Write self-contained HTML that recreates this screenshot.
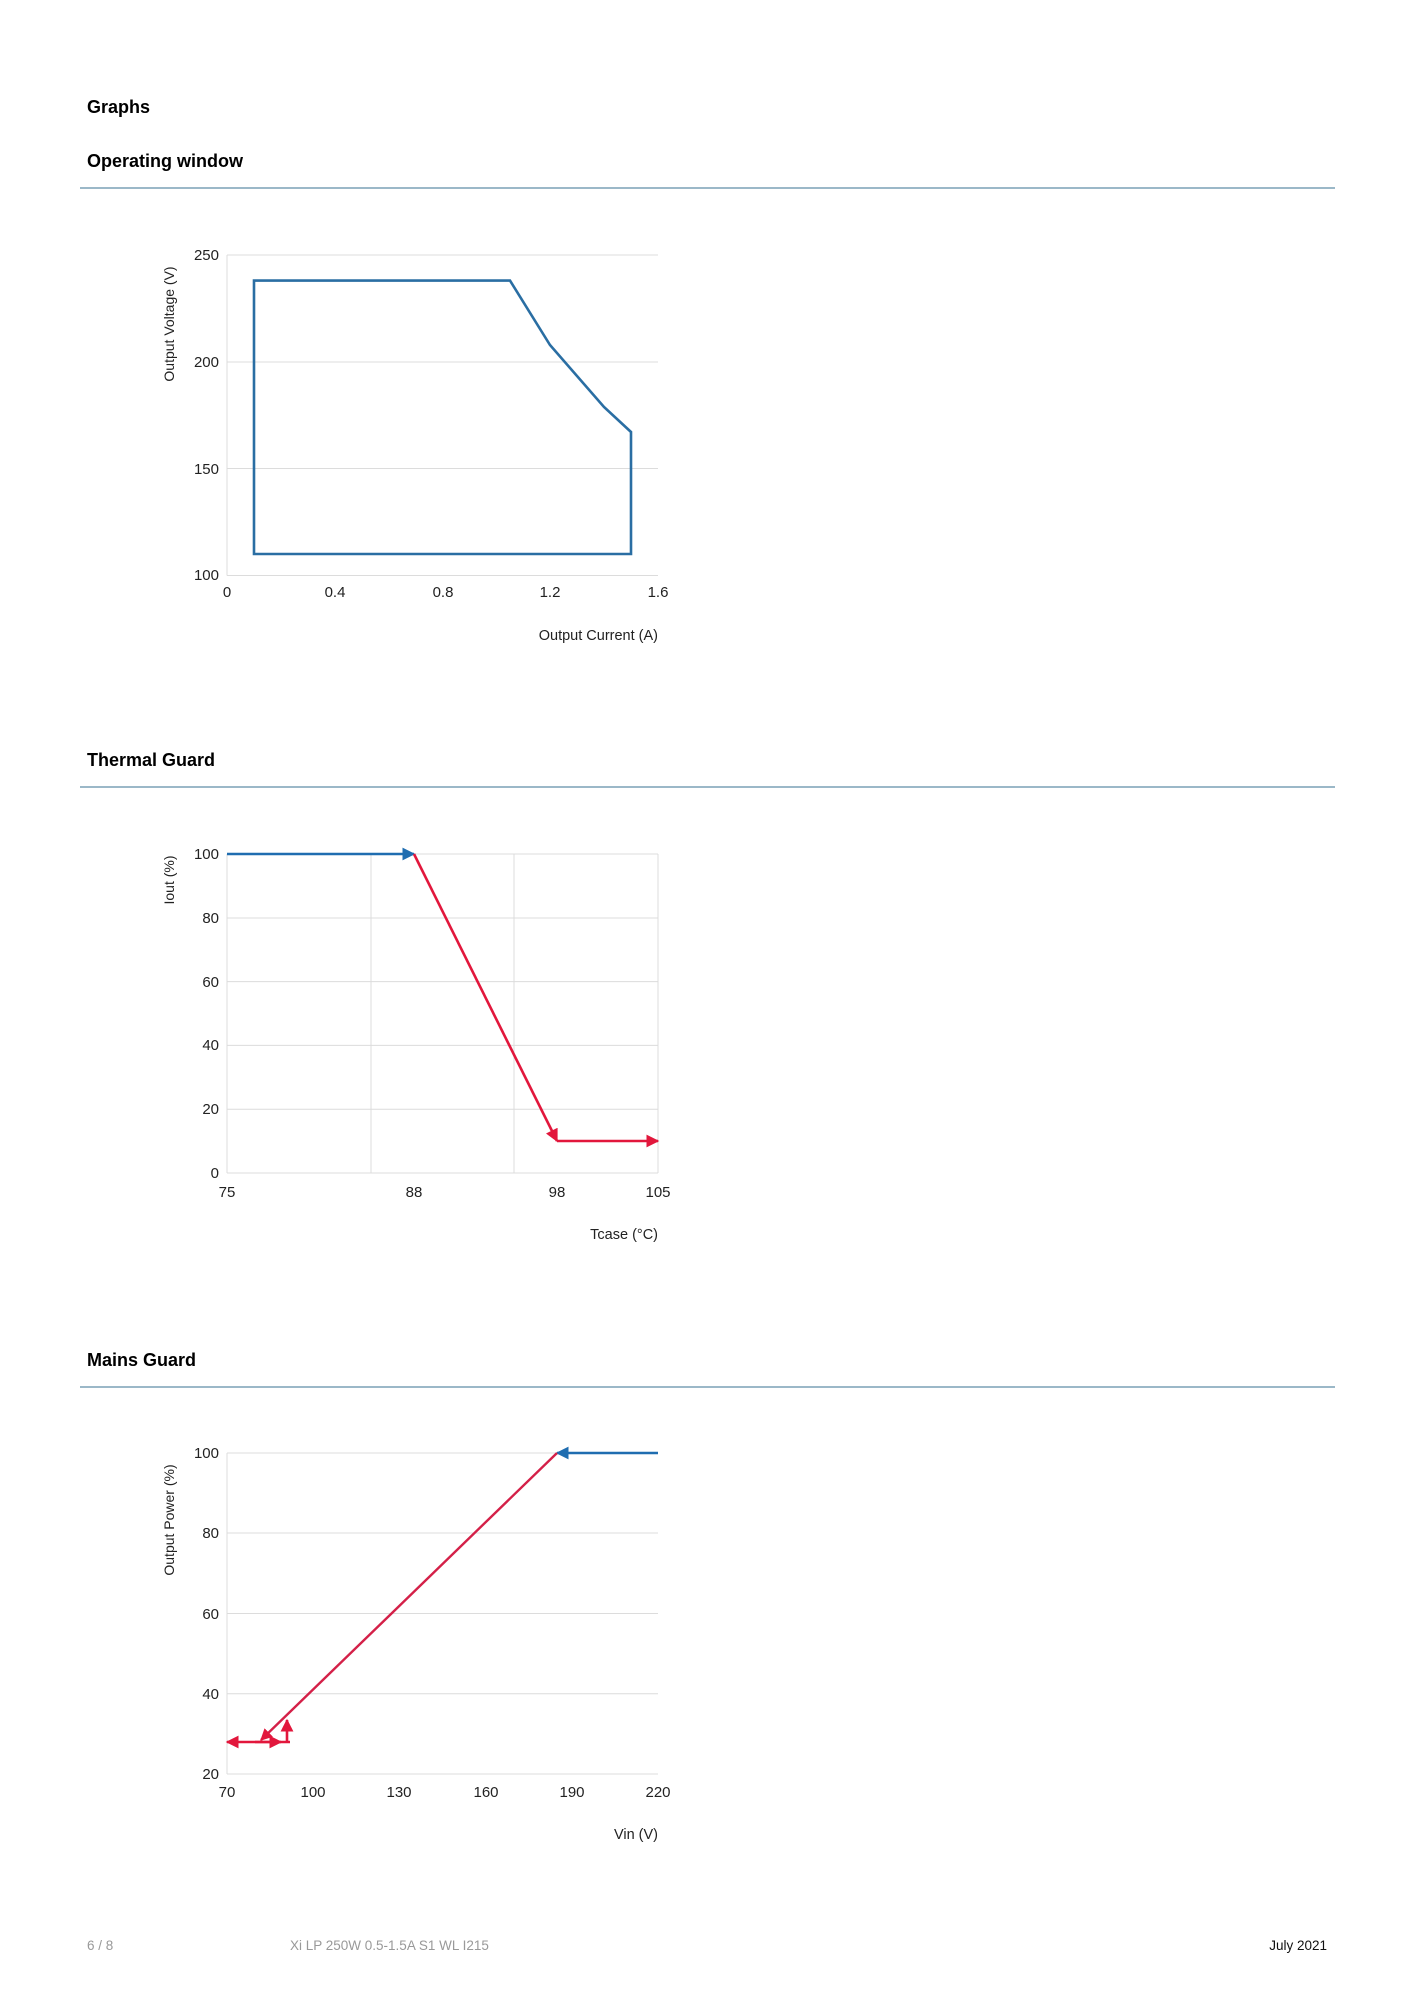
<!DOCTYPE html>
<html><head><meta charset="utf-8"><style>
html,body{margin:0;padding:0;background:#fff;}
svg{display:block;}
text{font-family:"Liberation Sans",sans-serif;}
</style></head><body>
<svg width="1414" height="2000" viewBox="0 0 1414 2000" xmlns="http://www.w3.org/2000/svg">
<defs>
<marker id="ab" viewBox="0 0 10 10" refX="9" refY="5" markerWidth="5" markerHeight="5" orient="auto" markerUnits="strokeWidth"><path d="M0,0 L10,5 L0,10 z" fill="#1f6db0"/></marker>
<marker id="ar" viewBox="0 0 10 10" refX="9" refY="5" markerWidth="5" markerHeight="5" orient="auto" markerUnits="strokeWidth"><path d="M0,0 L10,5 L0,10 z" fill="#e2173c"/></marker>
</defs>
<g font-weight="bold" font-size="18" fill="#000">
<text x="87" y="113">Graphs</text>
<text x="87" y="167">Operating window</text>
<text x="87" y="766">Thermal Guard</text>
<text x="87" y="1366">Mains Guard</text>
</g>
<g stroke="#5f8ea6" stroke-width="1.3">
<line x1="80" y1="188" x2="1335" y2="188"/>
<line x1="80" y1="787" x2="1335" y2="787"/>
<line x1="80" y1="1387" x2="1335" y2="1387"/>
</g>

<!-- Chart 1 -->
<g stroke="#dcdcdc" stroke-width="1">
<line x1="227" y1="255" x2="658" y2="255"/>
<line x1="227" y1="362" x2="658" y2="362"/>
<line x1="227" y1="468.5" x2="658" y2="468.5"/>
<line x1="227" y1="575.5" x2="658" y2="575.5"/>
<line x1="227" y1="255" x2="227" y2="575.5"/>
</g>
<g font-size="15" fill="#222" text-anchor="end">
<text x="219" y="260">250</text><text x="219" y="367">200</text><text x="219" y="474">150</text><text x="219" y="580">100</text>
</g>
<g font-size="15" fill="#222" text-anchor="middle">
<text x="227" y="597">0</text><text x="335" y="597">0.4</text><text x="443" y="597">0.8</text><text x="550" y="597">1.2</text><text x="658" y="597">1.6</text>
</g>
<text x="658" y="640" font-size="14.5" fill="#222" text-anchor="end">Output Current (A)</text>
<text transform="translate(174,324) rotate(-90)" font-size="14" fill="#222" text-anchor="middle">Output Voltage (V)</text>
<polygon points="254,554 254,280.6 510,280.6 550,345 604,407 631,432 631,554" fill="none" stroke="#2a6ea3" stroke-width="2.6"/>

<!-- Chart 2 -->
<g stroke="#dcdcdc" stroke-width="1">
<line x1="227" y1="854" x2="658" y2="854"/>
<line x1="227" y1="918" x2="658" y2="918"/>
<line x1="227" y1="981.6" x2="658" y2="981.6"/>
<line x1="227" y1="1045.4" x2="658" y2="1045.4"/>
<line x1="227" y1="1109.2" x2="658" y2="1109.2"/>
<line x1="227" y1="1173" x2="658" y2="1173"/>
<line x1="227" y1="854" x2="227" y2="1173"/>
<line x1="371" y1="854" x2="371" y2="1173"/>
<line x1="514" y1="854" x2="514" y2="1173"/>
<line x1="658" y1="854" x2="658" y2="1173"/>
</g>
<g font-size="15" fill="#222" text-anchor="end">
<text x="219" y="859">100</text><text x="219" y="923">80</text><text x="219" y="987">60</text><text x="219" y="1050">40</text><text x="219" y="1114">20</text><text x="219" y="1178">0</text>
</g>
<g font-size="15" fill="#222" text-anchor="middle">
<text x="227" y="1197">75</text><text x="414" y="1197">88</text><text x="557" y="1197">98</text><text x="658" y="1197">105</text>
</g>
<text x="658" y="1239" font-size="14.5" fill="#222" text-anchor="end">Tcase (°C)</text>
<text transform="translate(174,880) rotate(-90)" font-size="14" fill="#222" text-anchor="middle">Iout (%)</text>
<line x1="227" y1="854" x2="414" y2="854" stroke="#1f6db0" stroke-width="2.6" marker-end="url(#ab)"/>
<line x1="414" y1="854" x2="557" y2="1141" stroke="#e2173c" stroke-width="2.6" marker-end="url(#ar)"/>
<line x1="557" y1="1141" x2="658" y2="1141" stroke="#e2173c" stroke-width="2.6" marker-end="url(#ar)"/>

<!-- Chart 3 -->
<g stroke="#dcdcdc" stroke-width="1">
<line x1="227" y1="1453" x2="658" y2="1453"/>
<line x1="227" y1="1533" x2="658" y2="1533"/>
<line x1="227" y1="1613.5" x2="658" y2="1613.5"/>
<line x1="227" y1="1693.8" x2="658" y2="1693.8"/>
<line x1="227" y1="1774" x2="658" y2="1774"/>
<line x1="227" y1="1453" x2="227" y2="1774"/>
</g>
<g font-size="15" fill="#222" text-anchor="end">
<text x="219" y="1458">100</text><text x="219" y="1538">80</text><text x="219" y="1619">60</text><text x="219" y="1699">40</text><text x="219" y="1779">20</text>
</g>
<g font-size="15" fill="#222" text-anchor="middle">
<text x="227" y="1797">70</text><text x="313" y="1797">100</text><text x="399" y="1797">130</text><text x="486" y="1797">160</text><text x="572" y="1797">190</text><text x="658" y="1797">220</text>
</g>
<text x="658" y="1839" font-size="14.5" fill="#222" text-anchor="end">Vin (V)</text>
<text transform="translate(174,1520) rotate(-90)" font-size="14" fill="#222" text-anchor="middle">Output Power (%)</text>
<line x1="658" y1="1453" x2="557" y2="1453" stroke="#1f6db0" stroke-width="2.6" marker-end="url(#ab)"/>
<line x1="557" y1="1453" x2="261" y2="1740" stroke="#d42048" stroke-width="2.4" marker-end="url(#ar)"/>
<line x1="290" y1="1742" x2="227" y2="1742" stroke="#e2173c" stroke-width="2.6" marker-end="url(#ar)"/>
<line x1="255" y1="1742" x2="281" y2="1742" stroke="#e2173c" stroke-width="2.6" marker-end="url(#ar)"/>
<line x1="287" y1="1742" x2="287" y2="1720" stroke="#e2173c" stroke-width="2.6" marker-end="url(#ar)"/>

<!-- Footer -->
<text x="87" y="1950" font-size="13.5" fill="#999">6 / 8</text>
<text x="290" y="1950" font-size="13.5" fill="#999">Xi LP 250W 0.5-1.5A S1 WL I215</text>
<text x="1327" y="1950" font-size="13.5" fill="#111" text-anchor="end">July 2021</text>
</svg>
</body></html>
